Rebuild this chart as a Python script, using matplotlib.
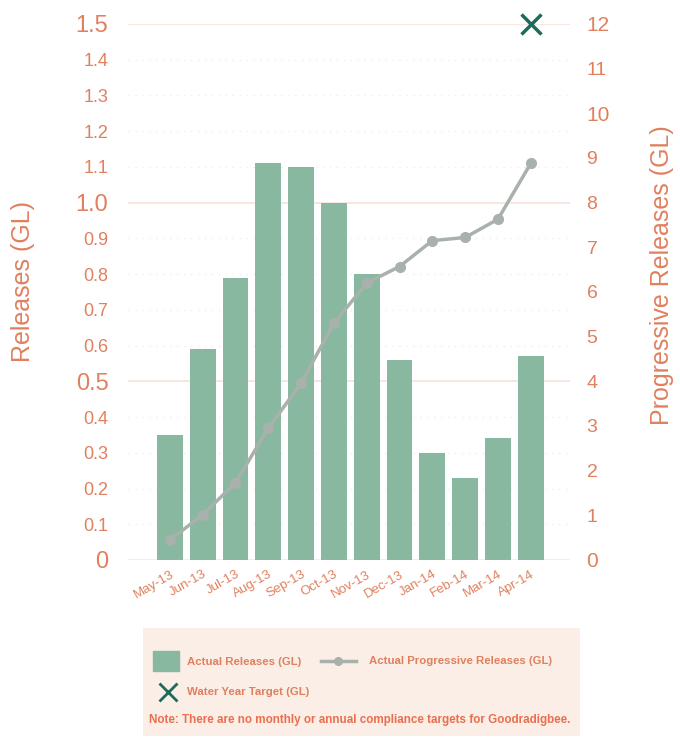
import numpy as np
import matplotlib
matplotlib.use("Agg")
import matplotlib.pyplot as plt
from matplotlib.patches import Rectangle

plt.rcParams['font.family'] = ['Liberation Sans', 'DejaVu Sans']

months = ["May-13", "Jun-13", "Jul-13", "Aug-13", "Sep-13", "Oct-13",
          "Nov-13", "Dec-13", "Jan-14", "Feb-14", "Mar-14", "Apr-14"]
releases = [0.35, 0.59, 0.79, 1.11, 1.10, 1.00, 0.80, 0.56, 0.30, 0.23, 0.34, 0.57]
progressive = [0.45, 1.01, 1.73, 2.95, 3.96, 5.30, 6.20, 6.57, 7.15, 7.22, 7.63, 8.88]
target_month = "Apr-14"
target = 12

left_ticks = [round(0.1 * i, 1) for i in range(16)]
right_ticks = list(range(13))

orange = "#e0805e"
bar_green = "#88b8a0"
line_grey = "#a9b1ad"
dark_green = "#1d6b59"

fig = plt.figure(figsize=(6.8, 7.38), dpi=100)
ax = fig.add_axes([0.188, 0.2412, 0.650, 0.7263])
ax2 = ax.twinx()

x = np.arange(len(months))

# grid: solid at every half, dotted in between
for t in left_ticks:
    if abs(t * 2 - round(t * 2)) < 1e-6:
        ax.axhline(t, color="#f7e2da" if t > 0 else "#ececec", lw=1.2, zorder=0)
    else:
        ax.axhline(t, color="#eeeeee", lw=1.0, ls=(0, (1, 4)), zorder=0)

ax.bar(x, releases, width=0.79, color=bar_green, zorder=2)
ax.set_ylim(0, 1.5)
ax.set_xlim(-1.28, 12.19)

ax2.plot(x, progressive, color=line_grey, lw=2.5, marker="o", ms=7,
         markerfacecolor=line_grey, markeredgecolor=line_grey, zorder=3)
ax2.plot([months.index(target_month)], [target], marker="x", ms=15, mew=2.5,
         color=dark_green, ls="none", clip_on=False, zorder=4)
ax2.set_ylim(0, 12)

ax.set_yticks(left_ticks)
ax.set_yticklabels(["0" if t == 0 else f"{t:.1f}" for t in left_ticks])
for t, lab in zip(left_ticks, ax.get_yticklabels()):
    big = abs(t * 2 - round(t * 2)) < 1e-6
    lab.set_fontsize(17 if big else 13)
    lab.set_color(orange)

ax2.set_yticks(right_ticks)
ax2.set_yticklabels([str(t) for t in right_ticks])
for t, lab in zip(right_ticks, ax2.get_yticklabels()):
    lab.set_fontsize(15 if t in (0, 10, 12) else 14)
    lab.set_color(orange)

ax.set_xticks(x)
ax.set_xticklabels(months, rotation=30, ha="right", rotation_mode="anchor",
                   fontsize=9.5, color=orange)

for a in (ax, ax2):
    for s in a.spines.values():
        s.set_visible(False)
    a.tick_params(length=0)
ax.tick_params(axis="y", pad=14)
ax.tick_params(axis="x", pad=6)
ax2.tick_params(axis="y", pad=12)

fig.text(0.034, 0.618, "Releases (GL)", rotation=90, fontsize=18,
         color=orange, ha="center", va="center")
fig.text(0.974, 0.627, "Progressive Releases (GL)", rotation=90, fontsize=18,
         color=orange, ha="center", va="center")

# legend panel
lg = fig.add_axes([143 / 680, 1 - 736 / 738, 437 / 680, 108 / 738])
lg.set_xlim(0, 437)
lg.set_ylim(108, 0)
lg.axis("off")
lg.add_patch(Rectangle((0, 0), 437, 108, color="#fbeee7", zorder=0))
lg.add_patch(Rectangle((10, 23), 26, 20, color=bar_green))
lg.text(44, 34, "Actual Releases (GL)", fontsize=8.2, fontweight="bold",
        color=orange, va="center")
lg.plot([178, 213], [33, 33], color=line_grey, lw=2.5)
lg.plot([195], [33], marker="o", ms=5.5, color=line_grey)
lg.text(226, 33, "Actual Progressive Releases (GL)", fontsize=8.2,
        fontweight="bold", color=orange, va="center")
lg.plot([25], [64], marker="x", ms=13, mew=2, color=dark_green)
lg.text(44, 64, "Water Year Target (GL)", fontsize=8.2, fontweight="bold",
        color=orange, va="center")
lg.text(6, 92, "Note: There are no monthly or annual compliance targets for Goodradigbee.",
        fontsize=8.4, fontweight="bold", color="#e8704f", va="center")

fig.savefig("out.png", dpi=100)
